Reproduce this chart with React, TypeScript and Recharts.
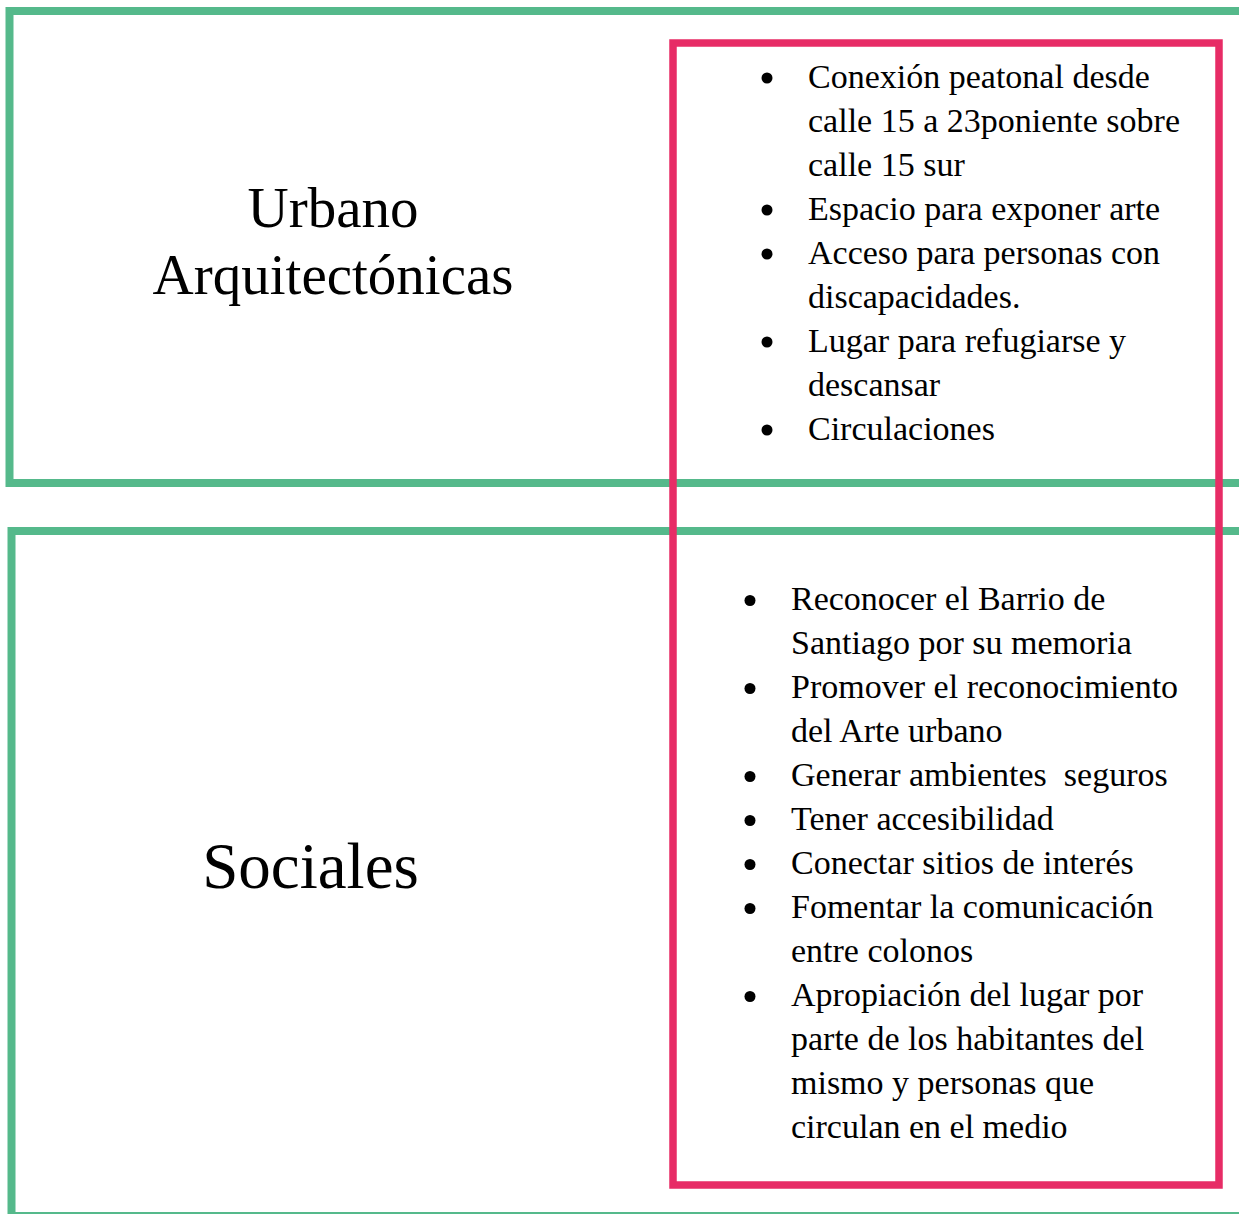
import React from "react";
import { ComposedChart, XAxis, YAxis, ReferenceArea, Scatter } from "recharts";

// texto del diagrama
const titles = [["Urbano", "Arquitectónicas"], ["Sociales"]];

const urbanItems = [
  ["Conexión peatonal desde", "calle 15 a 23poniente sobre", "calle 15 sur"],
  ["Espacio para exponer arte"],
  ["Acceso para personas con", "discapacidades."],
  ["Lugar para refugiarse y", "descansar"],
  ["Circulaciones"],
];

const socialItems = [
  ["Reconocer el Barrio de", "Santiago por su memoria"],
  ["Promover el reconocimiento", "del Arte urbano"],
  ["Generar ambientes  seguros"],
  ["Tener accesibilidad"],
  ["Conectar sitios de interés"],
  ["Fomentar la comunicación", "entre colonos"],
  [
    "Apropiación del lugar por",
    "parte de los habitantes del",
    "mismo y personas que",
    "circulan en el medio",
  ],
];

const W = 1239;
const H = 1214;
const GREEN = "#55b98b";
const PINK = "#e72c66";
const FONT = "'Liberation Serif', 'Times New Roman', serif";
const LINE_H = 44;

type Row = { x: number; y: number; text: string; bullet: boolean };

// convierte cada lista en filas (una por renglón) para el Scatter
function buildRows(items: string[][], textX: number, firstBaseline: number): Row[] {
  const rows: Row[] = [];
  let line = 0;
  items.forEach((item) => {
    item.forEach((text, i) => {
      rows.push({ x: textX, y: firstBaseline + line * LINE_H, text, bullet: i === 0 });
      line++;
    });
  });
  return rows;
}

const urbanRows = buildRows(urbanItems, 808, 87.5);
const socialRows = buildRows(socialItems, 791, 610);

const titleRows = [
  { x: 333, y: 227, text: titles[0][0], size: 57 },
  { x: 333, y: 294, text: titles[0][1], size: 57 },
  { x: 310.5, y: 888, text: titles[1][0], size: 65 },
];

const ListLine = (props: any) => {
  const { cx, cy, payload } = props;
  return (
    <g>
      {payload.bullet && <circle cx={cx - 41} cy={cy - 9.5} r={5.5} fill="#000" />}
      <text x={cx} y={cy} fontFamily={FONT} fontSize={34} fill="#000" style={{ whiteSpace: "pre" }}>
        {payload.text}
      </text>
    </g>
  );
};

const TitleLine = (props: any) => {
  const { cx, cy, payload } = props;
  return (
    <text x={cx} y={cy} fontFamily={FONT} fontSize={payload.size} textAnchor="middle" fill="#000">
      {payload.text}
    </text>
  );
};

export default function App() {
  return (
    <div style={{ position: "absolute", left: 0, top: 0, width: W, height: H, background: "#fff" }}>
      <ComposedChart width={W} height={H} margin={{ top: 0, right: 0, bottom: 0, left: 0 }}>
        <XAxis type="number" dataKey="x" domain={[0, W]} hide height={0} />
        <YAxis type="number" dataKey="y" domain={[0, H]} reversed hide width={0} />

        <ReferenceArea x1={9.5} x2={1260} y1={11} y2={483} ifOverflow="visible"
          fill="none" stroke={GREEN} strokeWidth={8} />
        <ReferenceArea x1={11.5} x2={1260} y1={531} y2={1216} ifOverflow="visible"
          fill="none" stroke={GREEN} strokeWidth={8} />
        <ReferenceArea x1={673} x2={1219} y1={43} y2={1185} ifOverflow="visible"
          fill="none" stroke={PINK} strokeWidth={7.5} />

        <Scatter data={titleRows} dataKey="y" shape={TitleLine} isAnimationActive={false} />
        <Scatter data={urbanRows} dataKey="y" shape={ListLine} isAnimationActive={false} />
        <Scatter data={socialRows} dataKey="y" shape={ListLine} isAnimationActive={false} />
      </ComposedChart>
    </div>
  );
}
